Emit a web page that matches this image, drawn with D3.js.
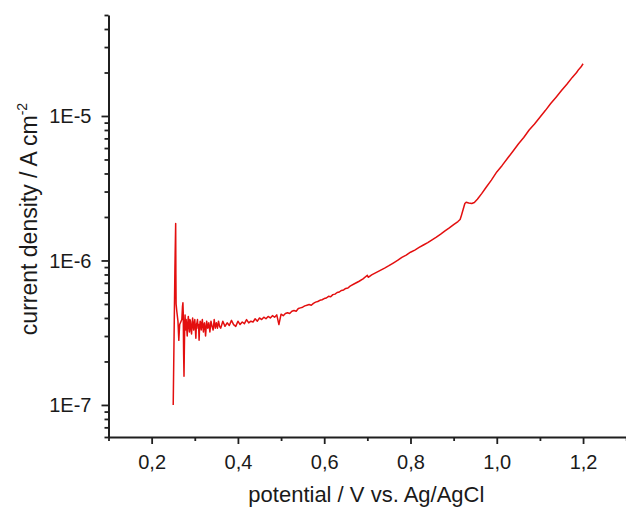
<!DOCTYPE html>
<html>
<head>
<meta charset="utf-8">
<script src="https://cdn.jsdelivr.net/npm/d3@7"></script>
<style>
  html, body { margin: 0; padding: 0; background: #fff; }
  svg { display: block; }
  text { font-family: "Liberation Sans", Arial, sans-serif; fill: #1a1a1a; }
</style>
</head>
<body>
<svg id="chart" width="626" height="507"></svg>
<script>
// ---- data ----
const potential = [
  0.2500, 0.2540, 0.2557, 0.2562, 0.2567, 0.2585, 0.2610, 0.2630, 0.2640, 0.2650,
  0.2700, 0.2715, 0.2725, 0.2732, 0.2742, 0.2750, 0.2758, 0.2768, 0.2775, 0.2785,
  0.2800, 0.28125, 0.2825, 0.28375, 0.2850, 0.28625, 0.2875, 0.28875, 0.2900, 0.29125,
  0.2925, 0.29375, 0.2950, 0.29625, 0.2975, 0.29875, 0.3000, 0.30125, 0.3025, 0.30375,
  0.3050, 0.30625, 0.3075, 0.30875, 0.3100, 0.31125, 0.3125, 0.31375, 0.3150, 0.31625,
  0.3175, 0.31875, 0.3200, 0.32125, 0.3225, 0.32375, 0.3250, 0.3275,
  0.3300, 0.3325, 0.3350, 0.3375, 0.3400, 0.3425, 0.3450, 0.3475, 0.3500, 0.3525,
  0.3550, 0.3575, 0.3600,
  0.365, 0.370, 0.375, 0.380, 0.385, 0.390, 0.395, 0.400, 0.405, 0.410,
  0.415, 0.420, 0.425, 0.430, 0.435, 0.440, 0.445, 0.450, 0.455, 0.460,
  0.465, 0.470, 0.475, 0.480, 0.485, 0.490, 0.495, 0.500, 0.505, 0.510,
  0.515, 0.520, 0.525, 0.530, 0.535, 0.540, 0.545, 0.550, 0.555, 0.560,
  0.565, 0.570, 0.575, 0.580, 0.585, 0.590, 0.595, 0.600,
  0.605, 0.61, 0.615, 0.62, 0.625, 0.63, 0.635, 0.64, 0.645, 0.65,
  0.655, 0.66, 0.67, 0.68, 0.69, 0.70, 0.702,
  0.71, 0.72, 0.73, 0.74, 0.75, 0.76, 0.77, 0.78, 0.79, 0.80,
  0.81, 0.82, 0.83, 0.84, 0.85, 0.86, 0.87, 0.88, 0.89, 0.90,
  0.91, 0.915, 0.918, 0.922, 0.926, 0.929, 0.935, 0.942, 0.948, 0.955,
  0.965, 0.975, 0.9875, 1.0, 1.0125, 1.025, 1.0375, 1.05, 1.0625, 1.075,
  1.0875, 1.1, 1.1125, 1.125, 1.1375, 1.15, 1.1625, 1.175, 1.185, 1.19,
  1.195, 1.2
];
const current = [
  1.0e-7, 9.0e-7, 1.8e-6, 8.0e-7, 5.0e-7, 4.4e-7, 3.8e-7, 2.8e-7, 3.2e-7, 3.6e-7,
  3.9e-7, 4.8e-7, 5.1e-7, 4.4e-7, 2.2e-7, 1.58e-7, 2.4e-7, 3.8e-7, 4.2e-7, 3.3e-7,
  3.9e-7, 3.4e-7, 3.0e-7, 3.7e-7, 4.1e-7, 3.5e-7, 3.2e-7, 3.9e-7, 3.8e-7, 3.3e-7,
  3.1e-7, 3.6e-7, 4.0e-7, 3.5e-7, 3.3e-7, 3.7e-7, 3.9e-7, 3.4e-7, 2.9e-7, 3.6e-7,
  3.7e-7, 3.9e-7, 3.4e-7, 3.6e-7, 2.8e-7, 3.5e-7, 3.8e-7, 3.6e-7, 3.3e-7, 3.7e-7,
  3.9e-7, 3.5e-7, 3.2e-7, 3.6e-7, 3.7e-7, 3.4e-7, 3.0e-7, 3.8e-7,
  3.4e-7, 3.7e-7, 3.2e-7, 3.8e-7, 3.5e-7, 3.3e-7, 3.9e-7, 3.4e-7, 3.7e-7, 3.4e-7,
  3.8e-7, 3.5e-7, 3.4e-7,
  3.8e-7, 3.5e-7, 3.7e-7, 3.55e-7, 3.85e-7, 3.6e-7, 3.5e-7, 3.8e-7, 3.6e-7, 3.75e-7,
  3.65e-7, 3.9e-7, 3.7e-7, 3.8e-7, 3.75e-7, 3.95e-7, 3.8e-7, 4.0e-7, 3.9e-7, 4.05e-7,
  3.95e-7, 4.1e-7, 4.0e-7, 4.15e-7, 4.05e-7, 4.2e-7, 3.6e-7, 4.25e-7, 4.15e-7, 4.3e-7,
  4.35e-7, 4.3e-7, 4.45e-7, 4.5e-7, 4.45e-7, 4.65e-7, 4.7e-7, 4.75e-7, 4.85e-7, 4.9e-7,
  4.95e-7, 4.9e-7, 5.05e-7, 5.15e-7, 5.2e-7, 5.3e-7, 5.35e-7, 5.45e-7,
  5.5e-7, 5.65e-7, 5.6e-7, 5.8e-7, 5.85e-7, 6.0e-7, 6.05e-7, 6.2e-7, 6.25e-7, 6.4e-7,
  6.45e-7, 6.65e-7, 6.9e-7, 7.15e-7, 7.45e-7, 7.9e-7, 7.65e-7,
  7.95e-7, 8.25e-7, 8.55e-7, 8.85e-7, 9.2e-7, 9.6e-7, 1.0e-6, 1.05e-6, 1.09e-6, 1.14e-6,
  1.18e-6, 1.23e-6, 1.28e-6, 1.33e-6, 1.39e-6, 1.45e-6, 1.52e-6, 1.6e-6, 1.68e-6, 1.77e-6,
  1.86e-6, 1.92e-6, 2.05e-6, 2.25e-6, 2.48e-6, 2.53e-6, 2.50e-6, 2.48e-6, 2.52e-6, 2.65e-6,
  2.9e-6, 3.2e-6, 3.6e-6, 4.1e-6, 4.55e-6, 5.1e-6, 5.7e-6, 6.4e-6, 7.1e-6, 8.0e-6,
  8.8e-6, 9.8e-6, 1.09e-5, 1.22e-5, 1.35e-5, 1.5e-5, 1.66e-5, 1.85e-5, 2.0e-5, 2.1e-5,
  2.18e-5, 2.3e-5
];
const xMajorTicks = [0.2, 0.4, 0.6, 0.8, 1.0, 1.2];
const xTickLabels = ["0,2", "0,4", "0,6", "0,8", "1,0", "1,2"];
const xMinorTicks = [0.1, 0.3, 0.5, 0.7, 0.9, 1.1, 1.3];
const yMajorTicks = [1e-7, 1e-6, 1e-5];
const yTickLabels = ["1E-7", "1E-6", "1E-5"];
const yMinorTicks = [6e-8, 7e-8, 8e-8, 9e-8,
  2e-7, 3e-7, 4e-7, 5e-7, 6e-7, 7e-7, 8e-7, 9e-7,
  2e-6, 3e-6, 4e-6, 5e-6, 6e-6, 7e-6, 8e-6, 9e-6,
  2e-5, 3e-5, 4e-5, 5e-5];
const xTitle = "potential / V vs. Ag/AgCl";

// ---- layout ----
const svg = d3.select("#chart");
const mLeft = 108.5, mRight = 626.2, mTop = 15, mBottom = 437;
const x = d3.scaleLinear().domain([0.1, 1.3]).range([mLeft, mRight]);
const y = d3.scaleLog().domain([6e-8, 5e-5]).range([mBottom, mTop]);
const axisColor = "#1f1f1f";

// curve
const data = potential.map((v, i) => ({ v, i: current[i] }));
svg.append("path")
  .datum(data)
  .attr("fill", "none")
  .attr("stroke", "#e30f0f")
  .attr("stroke-width", 1.5)
  .attr("stroke-linejoin", "round")
  .attr("d", d3.line().x(d => x(d.v)).y(d => y(d.i)));

// x axis
const gx = svg.append("g").attr("transform", `translate(0,${mBottom})`);
gx.call(d3.axisBottom(x).tickValues(xMajorTicks).tickSize(7).tickSizeOuter(0)
  .tickFormat((d, k) => xTickLabels[k]));
gx.append("g").call(d3.axisBottom(x).tickValues(xMinorTicks).tickSize(4).tickFormat(""))
  .select(".domain").remove();
gx.selectAll("path.domain").attr("stroke", axisColor).attr("stroke-width", 2);
gx.selectAll(".tick line").attr("stroke", axisColor).attr("stroke-width", 1.8);
gx.selectAll(".tick text").attr("font-size", 20).attr("y", 18).attr("dy", "0.71em")
  .style("font-family", "'Liberation Sans', Arial, sans-serif").attr("fill", "#1a1a1a");

// y axis
const gy = svg.append("g").attr("transform", `translate(${mLeft},0)`);
gy.call(d3.axisLeft(y).tickValues(yMajorTicks).tickSize(7).tickSizeOuter(0)
  .tickFormat((d, k) => yTickLabels[k]));
gy.append("g").call(d3.axisLeft(y).tickValues(yMinorTicks).tickSize(4).tickFormat(""))
  .select(".domain").remove();
gy.selectAll("path.domain").attr("stroke", axisColor).attr("stroke-width", 2);
gy.selectAll(".tick line").attr("stroke", axisColor).attr("stroke-width", 1.8);
gy.selectAll(".tick text").attr("font-size", 20).attr("x", -17).attr("dy", "0.34em")
  .style("font-family", "'Liberation Sans', Arial, sans-serif").attr("fill", "#1a1a1a");

// axis titles
svg.append("text")
  .attr("x", (mLeft + mRight) / 2 - 1)
  .attr("y", 502)
  .attr("text-anchor", "middle")
  .attr("font-size", 22)
  .text(xTitle);

const yt = svg.append("text")
  .attr("transform", "translate(37,219) rotate(-90)")
  .attr("text-anchor", "middle")
  .attr("font-size", 23);
yt.append("tspan").text("current density / A cm");
yt.append("tspan").attr("font-size", 14).attr("dy", -10).text("-2");
</script>
</body>
</html>
